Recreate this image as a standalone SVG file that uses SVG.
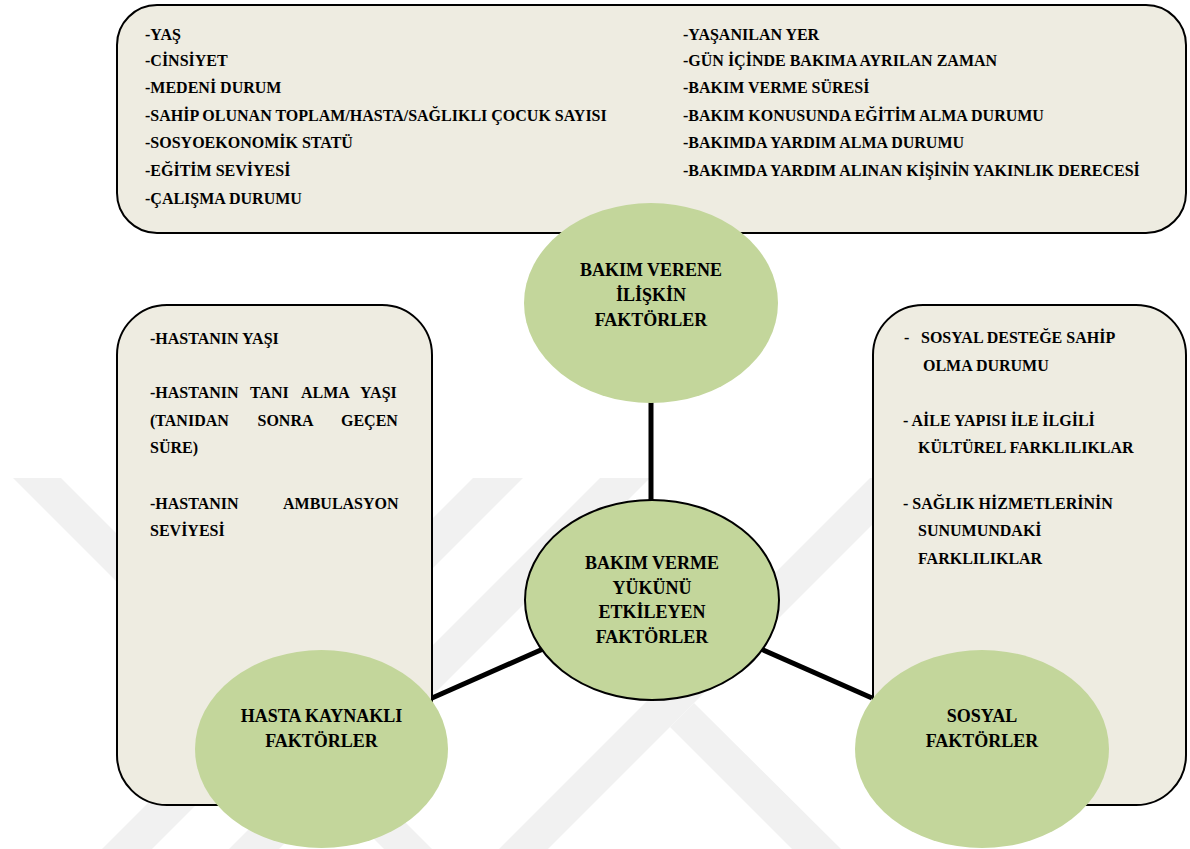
<svg xmlns="http://www.w3.org/2000/svg" width="1190" height="849" viewBox="0 0 1190 849">
<rect width="1190" height="849" fill="#fff"/>
<g id="watermark" fill="#f1f1f1">
<polygon points="13,478 61,478 432,849 384,849"/>
<polygon points="473,478 523,478 152,849 102,849"/>
<polygon points="600,478 650,478 279,849 229,849"/>
<polygon points="870,478 919,478 548,849 499,849"/>
<polygon points="694,703 670,727 792,849 841,849"/>
</g>
<g id="box-top">
<rect x="117" y="5" width="1069" height="228" rx="40" ry="40" fill="#EEECE1" stroke="#000" stroke-width="2"/>
</g>
<g id="box-left">
<rect x="117" y="305" width="315" height="500" rx="50" ry="50" fill="#EEECE1" stroke="#000" stroke-width="2"/>
</g>
<g id="box-right">
<rect x="873" y="305" width="313" height="500" rx="50" ry="50" fill="#EEECE1" stroke="#000" stroke-width="2"/>
</g>
<g id="connectors" stroke="#000" stroke-width="5" fill="none">
<line x1="651" y1="400" x2="651" y2="503"/>
<line x1="543" y1="649" x2="432" y2="698"/>
<line x1="761" y1="649" x2="872" y2="698"/>
</g>
<g id="node-top">
<ellipse cx="651" cy="303" rx="127" ry="100" fill="#C3D69B"/>
<text font-family="Liberation Serif" font-weight="bold" font-size="18" text-anchor="middle" x="651" y="276">BAKIM VERENE</text>
<text font-family="Liberation Serif" font-weight="bold" font-size="18" text-anchor="middle" x="651" y="301">İLİŞKİN</text>
<text font-family="Liberation Serif" font-weight="bold" font-size="18" text-anchor="middle" x="651" y="326">FAKTÖRLER</text>
</g>
<g id="node-left">
<ellipse cx="321.5" cy="749" rx="126.5" ry="99" fill="#C3D69B"/>
<text font-family="Liberation Serif" font-weight="bold" font-size="18" text-anchor="middle" x="321.5" y="722">HASTA KAYNAKLI</text>
<text font-family="Liberation Serif" font-weight="bold" font-size="18" text-anchor="middle" x="321.5" y="747">FAKTÖRLER</text>
</g>
<g id="node-right">
<ellipse cx="982" cy="749" rx="127" ry="99" fill="#C3D69B"/>
<text font-family="Liberation Serif" font-weight="bold" font-size="18" text-anchor="middle" x="982" y="722">SOSYAL</text>
<text font-family="Liberation Serif" font-weight="bold" font-size="18" text-anchor="middle" x="982" y="747">FAKTÖRLER</text>
</g>
<g id="node-center">
<ellipse cx="652" cy="600" rx="127" ry="100" fill="#C3D69B" stroke="#000" stroke-width="2"/>
<text font-family="Liberation Serif" font-weight="bold" font-size="18" text-anchor="middle" x="652" y="569">BAKIM VERME</text>
<text font-family="Liberation Serif" font-weight="bold" font-size="18" text-anchor="middle" x="652" y="594">YÜKÜNÜ</text>
<text font-family="Liberation Serif" font-weight="bold" font-size="18" text-anchor="middle" x="652" y="618">ETKİLEYEN</text>
<text font-family="Liberation Serif" font-weight="bold" font-size="18" text-anchor="middle" x="652" y="643">FAKTÖRLER</text>
</g>
<g id="text-top">
<text font-family="Liberation Serif" font-weight="bold" font-size="16" x="145" y="40">-YAŞ</text>
<text font-family="Liberation Serif" font-weight="bold" font-size="16" x="145" y="66">-CİNSİYET</text>
<text font-family="Liberation Serif" font-weight="bold" font-size="16" x="145" y="93">-MEDENİ DURUM</text>
<text font-family="Liberation Serif" font-weight="bold" font-size="16" x="145" y="121">-SAHİP OLUNAN TOPLAM/HASTA/SAĞLIKLI ÇOCUK SAYISI</text>
<text font-family="Liberation Serif" font-weight="bold" font-size="16" x="145" y="148">-SOSYOEKONOMİK STATÜ</text>
<text font-family="Liberation Serif" font-weight="bold" font-size="16" x="145" y="176">-EĞİTİM SEVİYESİ</text>
<text font-family="Liberation Serif" font-weight="bold" font-size="16" x="145" y="204">-ÇALIŞMA DURUMU</text>
<text font-family="Liberation Serif" font-weight="bold" font-size="16" x="683" y="40">-YAŞANILAN YER</text>
<text font-family="Liberation Serif" font-weight="bold" font-size="16" x="683" y="66">-GÜN İÇİNDE BAKIMA AYRILAN ZAMAN</text>
<text font-family="Liberation Serif" font-weight="bold" font-size="16" x="683" y="93">-BAKIM VERME SÜRESİ</text>
<text font-family="Liberation Serif" font-weight="bold" font-size="16" x="683" y="121">-BAKIM KONUSUNDA EĞİTİM ALMA DURUMU</text>
<text font-family="Liberation Serif" font-weight="bold" font-size="16" x="683" y="148">-BAKIMDA YARDIM ALMA DURUMU</text>
<text font-family="Liberation Serif" font-weight="bold" font-size="16" x="683" y="176">-BAKIMDA YARDIM ALINAN KİŞİNİN YAKINLIK DERECESİ</text>
</g>
<g id="text-left">
<text font-family="Liberation Serif" font-weight="bold" font-size="16" x="150" y="344">-HASTANIN YAŞI</text>
<text font-family="Liberation Serif" font-weight="bold" font-size="16" y="398"><tspan x="150">-HASTANIN</tspan><tspan x="250">TANI</tspan><tspan x="301">ALMA</tspan><tspan x="360">YAŞI</tspan></text>
<text font-family="Liberation Serif" font-weight="bold" font-size="16" y="426"><tspan x="150">(TANIDAN</tspan><tspan x="257.5">SONRA</tspan><tspan x="341">GEÇEN</tspan></text>
<text font-family="Liberation Serif" font-weight="bold" font-size="16" x="150" y="453">SÜRE)</text>
<text font-family="Liberation Serif" font-weight="bold" font-size="16" y="509"><tspan x="150">-HASTANIN</tspan><tspan x="283">AMBULASYON</tspan></text>
<text font-family="Liberation Serif" font-weight="bold" font-size="16" x="150" y="536">SEVİYESİ</text>
</g>
<g id="text-right">
<text font-family="Liberation Serif" font-weight="bold" font-size="16" y="343"><tspan x="904">-</tspan><tspan x="921">SOSYAL DESTEĞE SAHİP</tspan></text>
<text font-family="Liberation Serif" font-weight="bold" font-size="16" x="923" y="371">OLMA DURUMU</text>
<text font-family="Liberation Serif" font-weight="bold" font-size="16" x="903" y="426">- AİLE YAPISI İLE İLGİLİ</text>
<text font-family="Liberation Serif" font-weight="bold" font-size="16" x="918" y="453">KÜLTÜREL FARKLILIKLAR</text>
<text font-family="Liberation Serif" font-weight="bold" font-size="16" x="903" y="509">- SAĞLIK HİZMETLERİNİN</text>
<text font-family="Liberation Serif" font-weight="bold" font-size="16" x="918" y="536">SUNUMUNDAKİ</text>
<text font-family="Liberation Serif" font-weight="bold" font-size="16" x="918" y="564">FARKLILIKLAR</text>
</g>
</svg>
